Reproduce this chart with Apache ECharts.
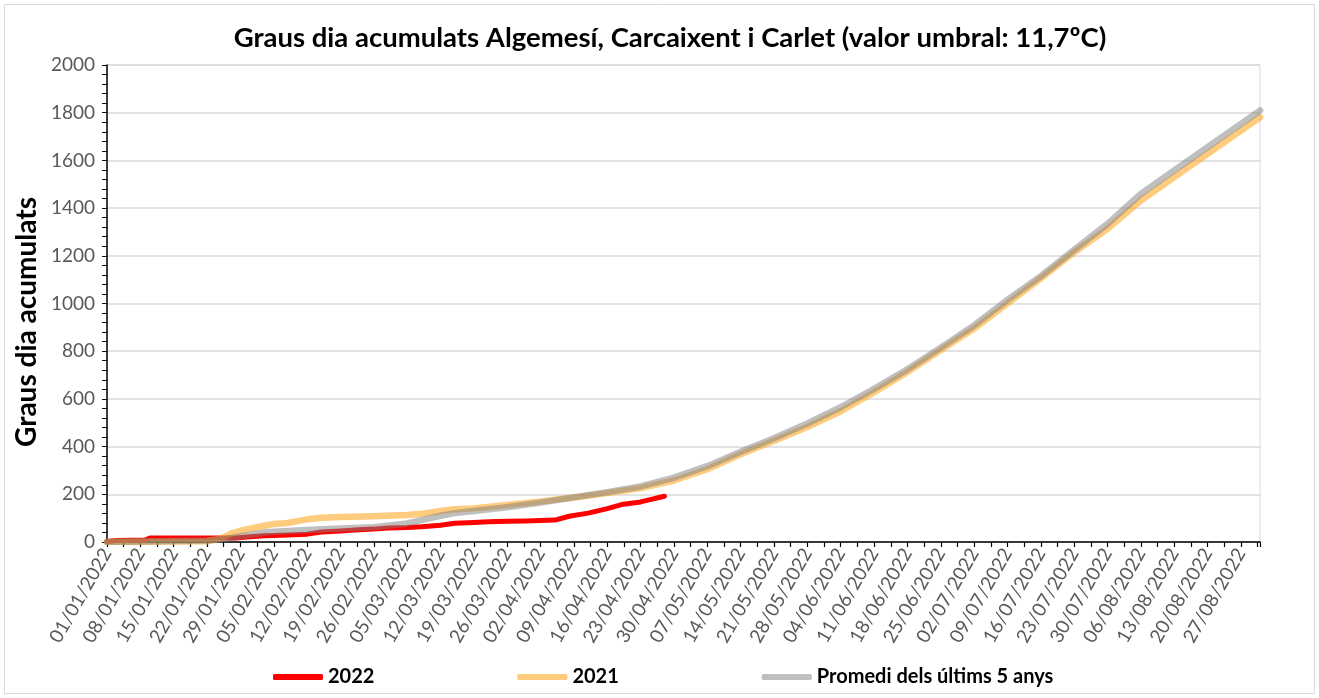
<!DOCTYPE html>
<html>
<head>
<meta charset="utf-8">
<title>Graus dia acumulats</title>
<script src="https://cdn.jsdelivr.net/npm/echarts@6/dist/echarts.min.js"></script>
<style>
  html, body { margin: 0; padding: 0; background: #fff; }
  #myChart { width: 1319px; height: 698px; }
</style>
</head>
<body>
<div id="myChart"></div>
<script>
// dies des de l'01/01/2022 fins al 31/08/2022
var dates = []
for (var i = 0; i < 243; i++) {
  var d = new Date(2022, 0, 1 + i)
  var dd = ('0' + d.getDate()).slice(-2)
  var mm = ('0' + (d.getMonth() + 1)).slice(-2)
  dates.push(dd + '/' + mm + '/' + d.getFullYear())
}

var seriesNames = ['2022', '2021', 'Promedi dels últims 5 anys']

// punts llegits del gràfic (dia de l'any, comptant des de 0)
var days2022 = [0, 2, 8, 9, 27, 30, 33, 35, 38, 42, 45, 49, 52, 56, 59, 63, 66, 70, 73, 77, 80, 84, 88, 91, 94, 97, 101, 105, 108, 112, 117]
var vals2022 = [2, 6, 8, 17, 17, 22, 26, 27, 29, 33, 42, 46, 50, 54, 59, 61, 64, 70, 79, 82, 85, 87, 88, 90, 92, 108, 121, 140, 157, 168, 192]

var days2021 = [0, 7, 14, 21, 24, 26, 28, 30, 33, 35, 38, 42, 45, 49, 56, 63, 66, 70, 73, 77, 84, 91, 98, 105, 112, 119, 126, 133, 140, 147, 154, 161, 168, 175, 182, 189, 196, 203, 210, 217, 224, 231, 238, 242]
var vals2021 = [0, 1, 2, 3, 15, 35, 47, 56, 68, 75, 80, 95, 102, 105, 108, 113, 118, 130, 137, 141, 155, 170, 187, 205, 226, 258, 305, 368, 425, 482, 548, 628, 713, 805, 895, 1000, 1105, 1215, 1313, 1432, 1530, 1628, 1725, 1781]

var daysAvg = [0, 7, 14, 21, 25, 28, 33, 35, 42, 49, 56, 63, 66, 70, 73, 77, 84, 91, 98, 105, 112, 119, 126, 133, 140, 147, 154, 161, 168, 175, 182, 189, 196, 203, 210, 217, 224, 231, 238, 242]
var valsAvg = [0, 2, 4, 6, 14, 24, 40, 43, 50, 57, 62, 78, 92, 110, 121, 130, 146, 165, 187, 209, 233, 270, 318, 378, 435, 497, 565, 642, 724, 815, 908, 1015, 1115, 1225, 1334, 1460, 1558, 1656, 1753, 1809]

var yTicks = [0, 200, 400, 600, 800, 1000, 1200, 1400, 1600, 1800, 2000]

function pairs (days, vals) {
  return days.map(function (d, k) { return [dates[d], vals[k]] })
}

var colors = ['rgba(255,0,0,1)', 'rgba(255,165,30,0.58)', 'rgba(128,128,128,0.5)']
var widths = [5, 6.5, 6.5]
var lists = [pairs(days2022, vals2022), pairs(days2021, vals2021), pairs(daysAvg, valsAvg)]

var font = 'Lato, "Open Sans", sans-serif'

var options = {
  animation: false,
  textStyle: { fontFamily: font },
  title: {
    text: 'Graus dia acumulats Algemesí, Carcaixent i Carlet (valor umbral: 11,7ºC)',
    left: 665,
    textAlign: 'center',
    top: 19,
    textStyle: { fontFamily: font, fontSize: 27.5, fontWeight: 'bold', color: '#000' }
  },
  legend: {
    data: seriesNames,
    left: 268,
    top: 662,
    itemWidth: 50,
    itemHeight: 6,
    itemGap: 143,
    icon: 'roundRect',
    textStyle: { fontFamily: font, fontSize: 20, fontWeight: 'bold', color: '#000' }
  },
  graphic: [{
    type: 'rect',
    shape: { x: 4.5, y: 4.5, width: 1310, height: 689 },
    style: { fill: 'none', stroke: '#d9d9d9', lineWidth: 1 },
    silent: true
  }, {
    type: 'text',
    x: 27,
    y: 322,
    rotation: Math.PI / 2,
    style: {
      text: 'Graus dia acumulats',
      fontFamily: font,
      fontSize: 28,
      fontWeight: 'bold',
      fill: '#000',
      align: 'center',
      verticalAlign: 'middle'
    },
    silent: true
  }],
  grid: {
    left: 107,
    right: 59,
    top: 65,
    bottom: 156,
    show: true,
    borderColor: '#d9d9d9',
    borderWidth: 1
  },
  xAxis: [{
    type: 'category',
    data: dates,
    boundaryGap: false,
    axisLine: { lineStyle: { color: '#000', width: 1.5 } },
    axisTick: { show: false },
    axisLabel: {
      interval: 6,
      rotate: 60,
      fontSize: 19,
      color: '#595959',
      margin: 8,
      fontFamily: font
    },
    splitLine: { show: false }
  }, {
    type: 'value',
    position: 'bottom',
    min: 0,
    max: 242,
    interval: 3.5,
    axisLine: { show: false },
    axisTick: { show: true, length: 5, lineStyle: { color: '#000', width: 1.2 } },
    axisLabel: { show: false },
    splitLine: { show: false }
  }],
  yAxis: {
    type: 'value',
    min: yTicks[0],
    max: yTicks[yTicks.length - 1],
    interval: 200,
    axisLine: { show: true, lineStyle: { color: '#000', width: 1.5 } },
    axisTick: { show: true, length: 5, lineStyle: { color: '#000' } },
    minorTick: { show: true, splitNumber: 5, length: 5, lineStyle: { color: '#000' } },
    axisLabel: {
      fontSize: 19,
      color: '#595959',
      margin: 12,
      fontFamily: font,
      formatter: function (v) { return String(v) }
    },
    splitLine: { lineStyle: { color: '#d9d9d9', width: 1.5 } }
  },
  series: seriesNames.map(function (name, k) {
    return {
      name: name,
      type: 'line',
      xAxisIndex: 0,
      data: lists[k],
      showSymbol: false,
      symbol: 'none',
      itemStyle: { color: colors[k] },
      lineStyle: { color: colors[k], width: widths[k], cap: 'round', join: 'round' }
    }
  })
}

var myChart = echarts.init(document.getElementById('myChart'))
myChart.setOption(options)
</script>
</body>
</html>
